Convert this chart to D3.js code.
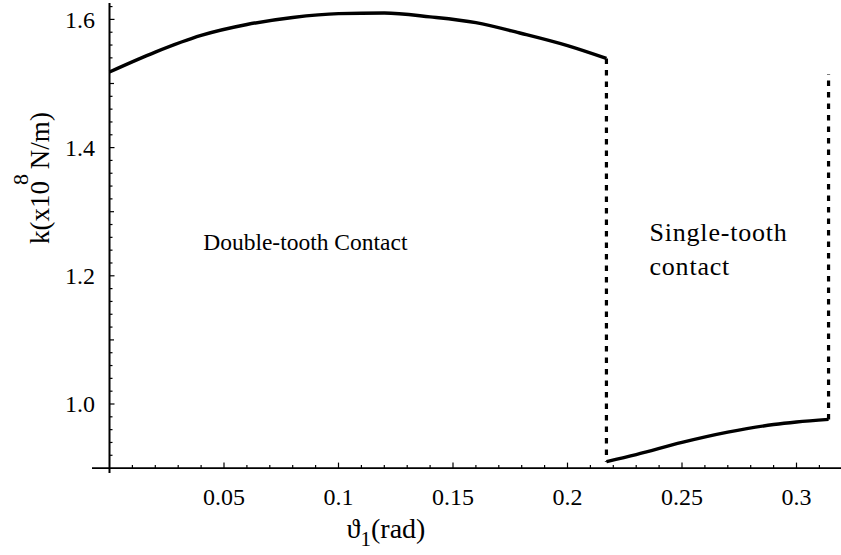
<!DOCTYPE html>
<html>
<head>
<meta charset="utf-8">
<script src="https://cdn.jsdelivr.net/npm/d3@7"></script>
<style>
  html, body { margin: 0; padding: 0; background: #fff; }
  svg { display: block; }
</style>
</head>
<body>
<svg id="chart" width="841" height="555"></svg>
<script>
// Mesh stiffness over one mesh cycle (rotation angle in rad, k in 1e8 N/m)
const doubleTheta = [0, 0.02, 0.04, 0.06, 0.08, 0.10, 0.12, 0.14, 0.16, 0.18, 0.20, 0.217];
const doubleK     = [1.518, 1.549, 1.575, 1.592, 1.603, 1.609, 1.610, 1.604, 1.595, 1.578, 1.559, 1.539];
const singleTheta = [0.217, 0.23, 0.25, 0.27, 0.29, 0.30, 0.314];
const singleK     = [0.910, 0.921, 0.940, 0.956, 0.968, 0.972, 0.976];
// Transitions between contact regimes
const switchTheta = [0.217, 0.314];
const switchFrom  = [1.539, 0.976];
const switchTo    = [0.910, 1.515];

const xTickValues = [0.05, 0.1, 0.15, 0.2, 0.25, 0.3];
const xTickLabels = ["0.05", "0.1", "0.15", "0.2", "0.25", "0.3"];
const yTickValues = [1.0, 1.2, 1.4, 1.6];
const yTickLabels = ["1.0", "1.2", "1.4", "1.6"];

const regionLabels = [
  { lines: ["Double-tooth Contact"], theta: 0.0409, k: 1.240, size: 23.5, spacing: 0 },
  { lines: ["Single-tooth", "contact"], theta: 0.2358, k: 1.254, size: 26, spacing: 0.8 }
];

const FONT = "'Liberation Serif', 'Times New Roman', Times, 'DejaVu Serif', serif";

const svg = d3.select("#chart");

const x = d3.scaleLinear().domain([0, 0.3]).range([109.5, 796.5]);
const y = d3.scaleLinear().domain([1.0, 1.6]).range([404, 19.4]);

const axisY = y(0.9);   // horizontal axis sits at k = 0.9
const axisX = x(0);     // vertical axis sits at theta = 0

function txt(sel) {
  return sel.style("font-family", FONT).attr("fill", "#000");
}

// ---- axes lines ----
svg.append("line")
  .attr("x1", 92).attr("x2", 841).attr("y1", axisY).attr("y2", axisY)
  .attr("stroke", "#000").attr("stroke-width", 1.8);
svg.append("line")
  .attr("x1", axisX).attr("x2", axisX).attr("y1", 3).attr("y2", 473)
  .attr("stroke", "#000").attr("stroke-width", 2);

// ---- x ticks (pointing up) ----
const xMinor = d3.range(1, 32).map(i => i / 100);
const gx = svg.append("g");
gx.selectAll("line").data(xMinor).join("line")
  .attr("x1", d => x(d)).attr("x2", d => x(d))
  .attr("y1", axisY).attr("y2", d => {
    const isMajor = xTickValues.some(v => Math.abs(v - d) < 1e-9);
    return axisY - (isMajor ? 5.5 : 3);
  })
  .attr("stroke", "#000").attr("stroke-width", 1.2);
gx.selectAll("text").data(xTickValues).join("text")
  .call(txt)
  .attr("x", d => x(d)).attr("y", 505)
  .attr("text-anchor", "middle")
  .attr("font-size", 24)
  .text((d, i) => xTickLabels[i]);

// ---- y ticks (pointing right) ----
const yMinor = d3.range(46, 82).map(i => i / 50); // every 0.02 from 0.92 to 1.62
const gy = svg.append("g");
gy.selectAll("line").data(yMinor.filter(d => d > 0.905 && d < 1.625)).join("line")
  .attr("y1", d => y(d)).attr("y2", d => y(d))
  .attr("x1", axisX).attr("x2", d => {
    const r = Math.round(d * 100);
    if (r % 20 === 0) return axisX + 5;
    if (r % 10 === 0) return axisX + 4.5;
    return axisX + 3;
  })
  .attr("stroke", "#000").attr("stroke-width", 1.2);
gy.selectAll("text").data(yTickValues).join("text")
  .call(txt)
  .attr("x", 95).attr("y", d => y(d))
  .attr("dy", "0.35em")
  .attr("text-anchor", "end")
  .attr("font-size", 24)
  .text((d, i) => yTickLabels[i]);

// ---- axis titles ----
const xt = svg.append("text").call(txt)
  .attr("x", 386).attr("y", 538)
  .attr("text-anchor", "middle")
  .attr("font-size", 28);
xt.append("tspan").text("\u03D1");
xt.append("tspan").attr("font-size", 21).attr("dy", 8).text("1");
xt.append("tspan").attr("dy", -8).text("(rad)");

const yt = svg.append("text").call(txt)
  .attr("transform", "translate(49,178) rotate(-90)")
  .attr("text-anchor", "middle")
  .attr("font-size", 27);
yt.append("tspan").text("k(x10");
yt.append("tspan").attr("font-size", 22).attr("dy", -21).attr("dx", -4).text("8");
yt.append("tspan").attr("dy", 21).attr("dx", -2).text(" N/m)");

// ---- stiffness curves ----
const line = d3.line().x(d => x(d[0])).y(d => y(d[1])).curve(d3.curveMonotoneX);

svg.append("path")
  .datum(doubleTheta.map((t, i) => [t, doubleK[i]]))
  .attr("d", line)
  .attr("fill", "none").attr("stroke", "#000")
  .attr("stroke-width", 3.4).attr("stroke-linejoin", "round");

svg.append("path")
  .datum(singleTheta.map((t, i) => [t, singleK[i]]))
  .attr("d", line)
  .attr("fill", "none").attr("stroke", "#000")
  .attr("stroke-width", 3.4).attr("stroke-linejoin", "round");

// ---- dashed regime switches ----
svg.selectAll("line.switch").data(switchTheta).join("line")
  .attr("class", "switch")
  .attr("x1", d => x(d)).attr("x2", d => x(d))
  .attr("y1", (d, i) => y(switchFrom[i]))
  .attr("y2", (d, i) => y(switchTo[i]))
  .attr("stroke", "#000").attr("stroke-width", 3.2)
  .attr("stroke-dasharray", "5.5,6");

// ---- region annotations ----
regionLabels.forEach(r => {
  const t = svg.append("text").call(txt)
    .attr("x", x(r.theta)).attr("y", y(r.k))
    .attr("font-size", r.size)
    .attr("letter-spacing", r.spacing);
  r.lines.forEach((s, i) => {
    t.append("tspan").attr("x", x(r.theta)).attr("dy", i === 0 ? 0 : 34).text(s);
  });
});
</script>
</body>
</html>
